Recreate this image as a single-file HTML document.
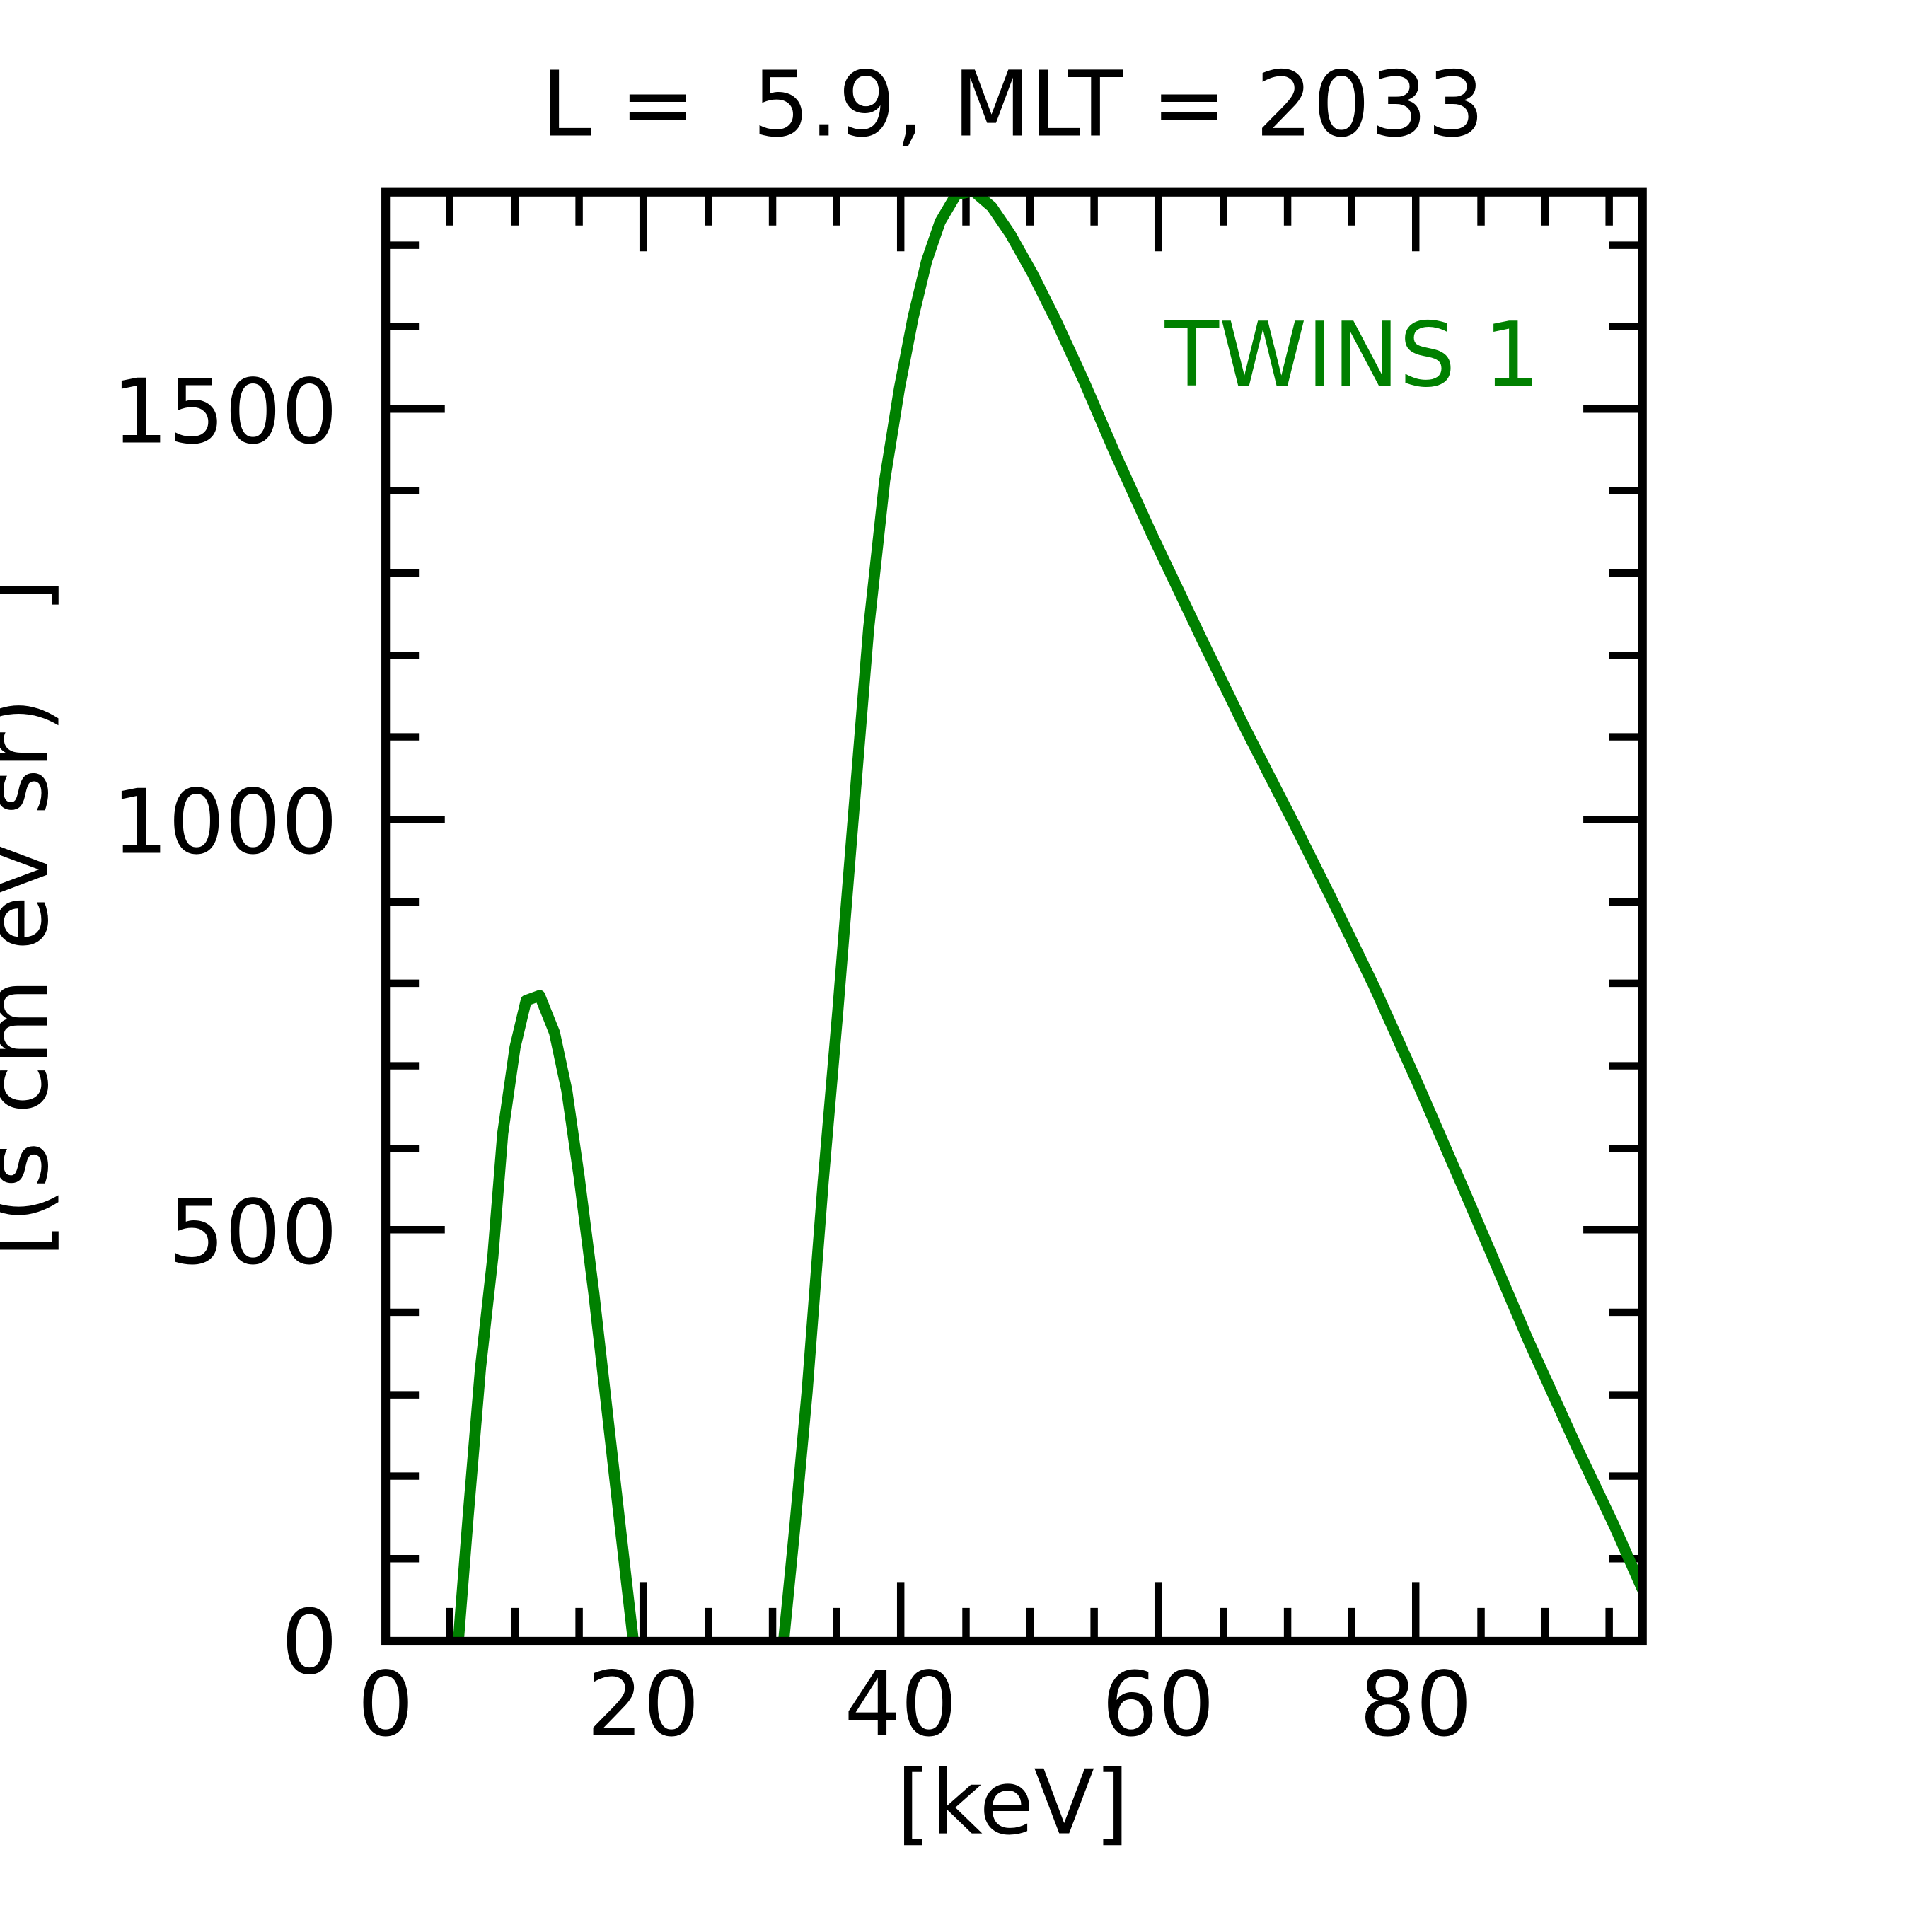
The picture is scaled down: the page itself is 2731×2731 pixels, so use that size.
<!DOCTYPE html>
<html><head><meta charset="utf-8"><style>html,body{margin:0;padding:0;background:#fff}svg{display:block}</style></head>
<body>
<svg width="2731" height="2731" viewBox="0 0 1568 1568" xmlns="http://www.w3.org/2000/svg" font-family="'DejaVu Sans','Liberation Sans',sans-serif">
<defs><clipPath id="c"><rect x="313" y="156" width="1020" height="1176"/></clipPath></defs>
<rect width="1568" height="1568" fill="#fff"/>
<g stroke="#000" stroke-width="6">
<path d="M522,156v48M731,156v48M940,156v48M1149,156v48M522,1332v-48M731,1332v-48M940,1332v-48M1149,1332v-48"/>
<path d="M365,156v27M418,156v27M470,156v27M575,156v27M627,156v27M679,156v27M784,156v27M836,156v27M888,156v27M993,156v27M1045,156v27M1097,156v27M1202,156v27M1254,156v27M1306,156v27
M365,1332v-27M418,1332v-27M470,1332v-27M575,1332v-27M627,1332v-27M679,1332v-27M784,1332v-27M836,1332v-27M888,1332v-27M993,1332v-27M1045,1332v-27M1097,1332v-27M1202,1332v-27M1254,1332v-27M1306,1332v-27"/>
<path d="M313,998h48M313,665h48M313,332h48M1333,998h-48M1333,665h-48M1333,332h-48"/>
<path d="M313,1265h27M313,1198h27M313,1132h27M313,1065h27M313,932h27M313,865h27M313,798h27M313,732h27M313,598h27M313,532h27M313,465h27M313,398h27M313,265h27M313,199h27
M1333,1265h-27M1333,1198h-27M1333,1132h-27M1333,1065h-27M1333,932h-27M1333,865h-27M1333,798h-27M1333,732h-27M1333,598h-27M1333,532h-27M1333,465h-27M1333,398h-27M1333,265h-27M1333,199h-27"/>
</g>
<g clip-path="url(#c)" fill="none" stroke="#008000" stroke-width="9" stroke-linejoin="round">
<polyline points="372,1332 380,1230 390,1110 400,1020 408,920 418,850 427,812 438,808 450,838 460,885 470,955 482,1050 495,1165 508,1280 514,1332"/>
<polyline points="636,1332 645,1240 655,1130 668,960 680,820 692,670 705,510 718,390 730,315 741,258 752,212 763,180 776,158 790,155 805,168 820,190 838,222 857,260 880,310 905,368 935,434 975,518 1010,590 1050,668 1080,728 1115,800 1150,878 1190,970 1240,1087 1280,1175 1310,1238 1333,1290"/>
</g>
<rect x="313" y="156" width="1020" height="1176" fill="none" stroke="#000" stroke-width="7"/>
<g font-size="72" fill="#000">
<text x="822" y="110" text-anchor="middle" font-size="73" xml:space="preserve">L =  5.9, MLT = 2033</text>
<text x="274" y="1358" text-anchor="end">0</text>
<text x="274" y="1025" text-anchor="end">500</text>
<text x="274" y="692" text-anchor="end">1000</text>
<text x="274" y="359" text-anchor="end">1500</text>
<text x="313" y="1408" text-anchor="middle">0</text>
<text x="522" y="1408" text-anchor="middle">20</text>
<text x="731" y="1408" text-anchor="middle">40</text>
<text x="940" y="1408" text-anchor="middle">60</text>
<text x="1149" y="1408" text-anchor="middle">80</text>
<text x="822" y="1488" text-anchor="middle">[keV]</text>
<text transform="translate(38,745) rotate(-90)" text-anchor="middle" xml:space="preserve">[(s cm ev sr)   ]</text>
<text x="1250" y="313" text-anchor="end" fill="#008000">TWINS 1</text>
</g>
</svg>
</body></html>
